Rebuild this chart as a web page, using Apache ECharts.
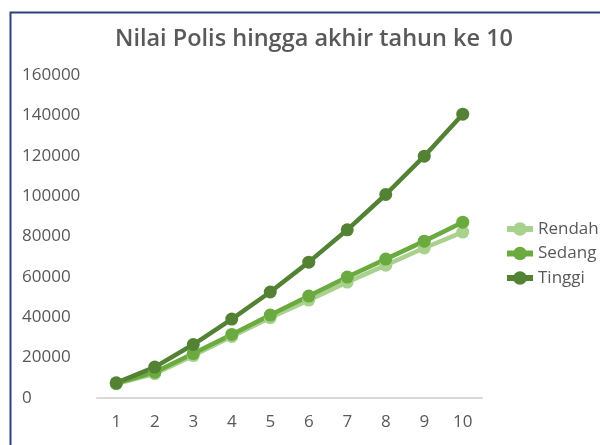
<!DOCTYPE html>
<html><head><meta charset="utf-8">
<script src="https://cdn.jsdelivr.net/npm/echarts@6/dist/echarts.min.js"></script>
<style>html,body{margin:0;padding:0;background:#fff}#c{width:600px;height:445px}</style>
</head><body><div id="c"></div>
<script>
const categories = ['1','2','3','4','5','6','7','8','9','10'];
const rendah = [7000, 12000, 21000, 30500, 39800, 48500, 57400, 65800, 74300, 82200];
const sedang = [7200, 12800, 22000, 31500, 41100, 50500, 59900, 68800, 77700, 87100];
const tinggi = [7500, 15300, 26500, 39100, 52500, 67300, 83300, 100800, 119800, 140600];
const yTicks = {min: 0, max: 160000, interval: 20000};
const font = 'Open Sans';
const chart = echarts.init(document.getElementById('c'));
function s(name, data, color){
  return {name, type:'line', data, symbol:'circle', symbolSize:13,
    lineStyle:{width:4.5, color}, itemStyle:{color}, z: 2};
}
chart.setOption({
  animation:false,
  graphic:[{type:'polyline', shape:{points:[[10.5,445],[10.5,12.5],[600,12.5]]}, style:{stroke:'#2f3f7a', lineWidth:2, fill:null}}],
  title:{text:'Nilai Polis hingga akhir tahun ke 10', left:309, top:22, textAlign:'center',
    textStyle:{fontFamily:font, fontSize:23.5, fontWeight:600, color:'#595959'}},
  legend:{orient:'vertical', left:504, top:220.5, padding:0, itemWidth:26, itemHeight:17, itemGap:7.5,
    lineStyle:{width:6},
    textStyle:{fontFamily:font, fontSize:17, color:'#595959'}, data:['Rendah','Sedang','Tinggi']},
  grid:{left:97, right:118, top:75, bottom:47},
  xAxis:{type:'category', data:categories, boundaryGap:true,
    axisLine:{lineStyle:{color:'#d9d9d9', width:2}}, axisTick:{show:false},
    axisLabel:{fontFamily:font, fontSize:17, color:'#595959', margin:16}},
  yAxis:{type:'value', min:yTicks.min, max:yTicks.max, interval:yTicks.interval,
    splitLine:{show:false}, axisLine:{show:false}, axisTick:{show:false},
    axisLabel:{fontFamily:font, fontSize:17, color:'#595959', align:'left', margin:75,
      formatter: v => String(v)}},
  series:[s('Rendah', rendah, '#a9d18e'), s('Sedang', sedang, '#6aaa3e'), s('Tinggi', tinggi, '#548235')]
});
</script></body></html>
